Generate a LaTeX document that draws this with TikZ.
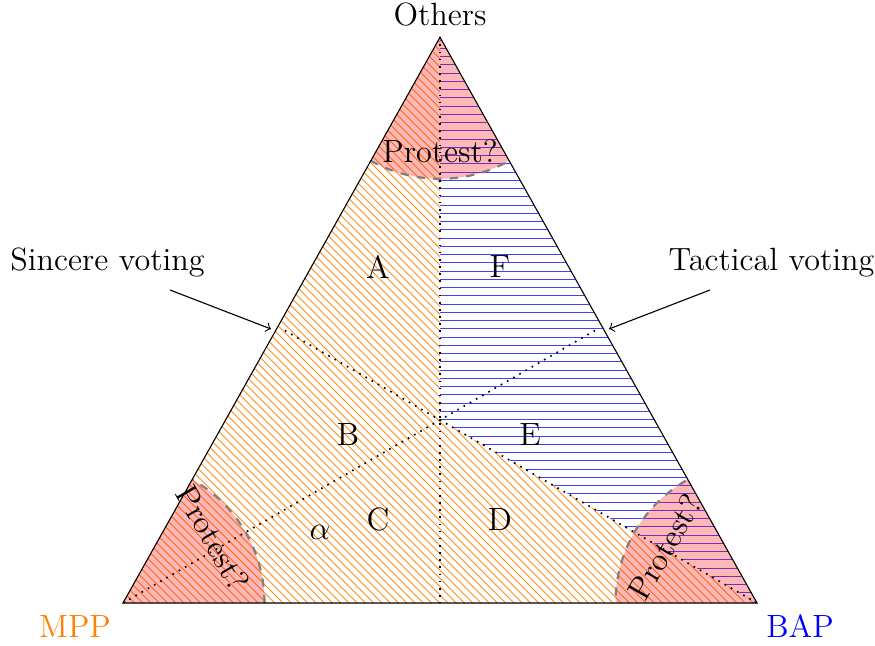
\documentclass[tikz,border=0pt]{standalone}
\begin{document}
\begin{tikzpicture}[x=0.363636pt,y=0.363636pt,
  every node/.style={font=\fontsize{11.7}{14}\selectfont, inner sep=0pt},
  hatchmpp/.style={draw=orange!90, line width=0.3pt},
  hatchbap/.style={draw=blue!75, line width=0.3pt},
  zone/.style={fill=red, fill opacity=0.28},
  zoneedge/.style={draw=gray, thick, dashed},
  median/.style={semithick, dotted},
  pointer/.style={->}]
\useasboundingbox (0,0) rectangle (875,645);
\coordinate (L) at (123,42);
\coordinate (R) at (757,42);
\coordinate (T) at (440,607.7);
\coordinate (O) at (440,225);
\coordinate (M) at (440,42);
\coordinate (P) at (282,316.2);
\coordinate (Q) at (598,316.2);
% MPP region (A, B, C, D)
\begin{scope}
  \clip (L) -- (T) -- (O) -- (R) -- cycle;
  \foreach \c in {160,168.25,...,1060} {
    \draw[hatchmpp] (\c,0) -- ({\c-650},650);
  }
\end{scope}
% BAP region (E, F)
\begin{scope}
  \clip (T) -- (R) -- (O) -- cycle;
  \foreach \h in {44,52.25,...,610} {
    \draw[hatchbap] (0,\h) -- (875,\h);
  }
\end{scope}
% protest zones
\begin{scope}
  \clip (L) -- (T) -- (R) -- cycle;
  \foreach \v in {L,T,R} {
    \fill[zone] (\v) circle (141.5);
    \draw[zoneedge] (\v) circle (141.5);
  }
\end{scope}
% medians
\draw[median] (T) -- (M);
\draw[median] (L) -- (Q);
\draw[median] (R) -- (P);
% triangle
\draw (L) -- (T) -- (R) -- cycle;
% labels
\node[anchor=base] (others) at (440,620) {Others};
\node[anchor=base, text=orange] (mpp) at (75,8) {MPP};
\node[anchor=base, text=blue] (bap) at (800,8) {BAP};
\node (pt) at (440,494) {Protest?};
\node[rotate=-60] (pl) at (213,107) {Protest?};
\node[rotate=60] (pr) at (665,98) {Protest?};
\node (A) at (378,378) {A};
\node (F) at (500,378) {F};
\node (B) at (348,210) {B};
\node (E) at (530,210) {E};
\node (C) at (378,125) {C};
\node (D) at (500,125) {D};
\node (al) at (320,113) {$\alpha$};
\node[anchor=base] (sinc) at (107.5,374.5) {Sincere voting};
\node[anchor=base] (tact) at (771.5,374.5) {Tactical voting};
\coordinate (s0) at (170,355);
\coordinate (s1) at (271,316);
\coordinate (t0) at (710,355);
\coordinate (t1) at (609,316);
\draw[pointer] (s0) -- (s1);
\draw[pointer] (t0) -- (t1);
\end{tikzpicture}
\end{document}
